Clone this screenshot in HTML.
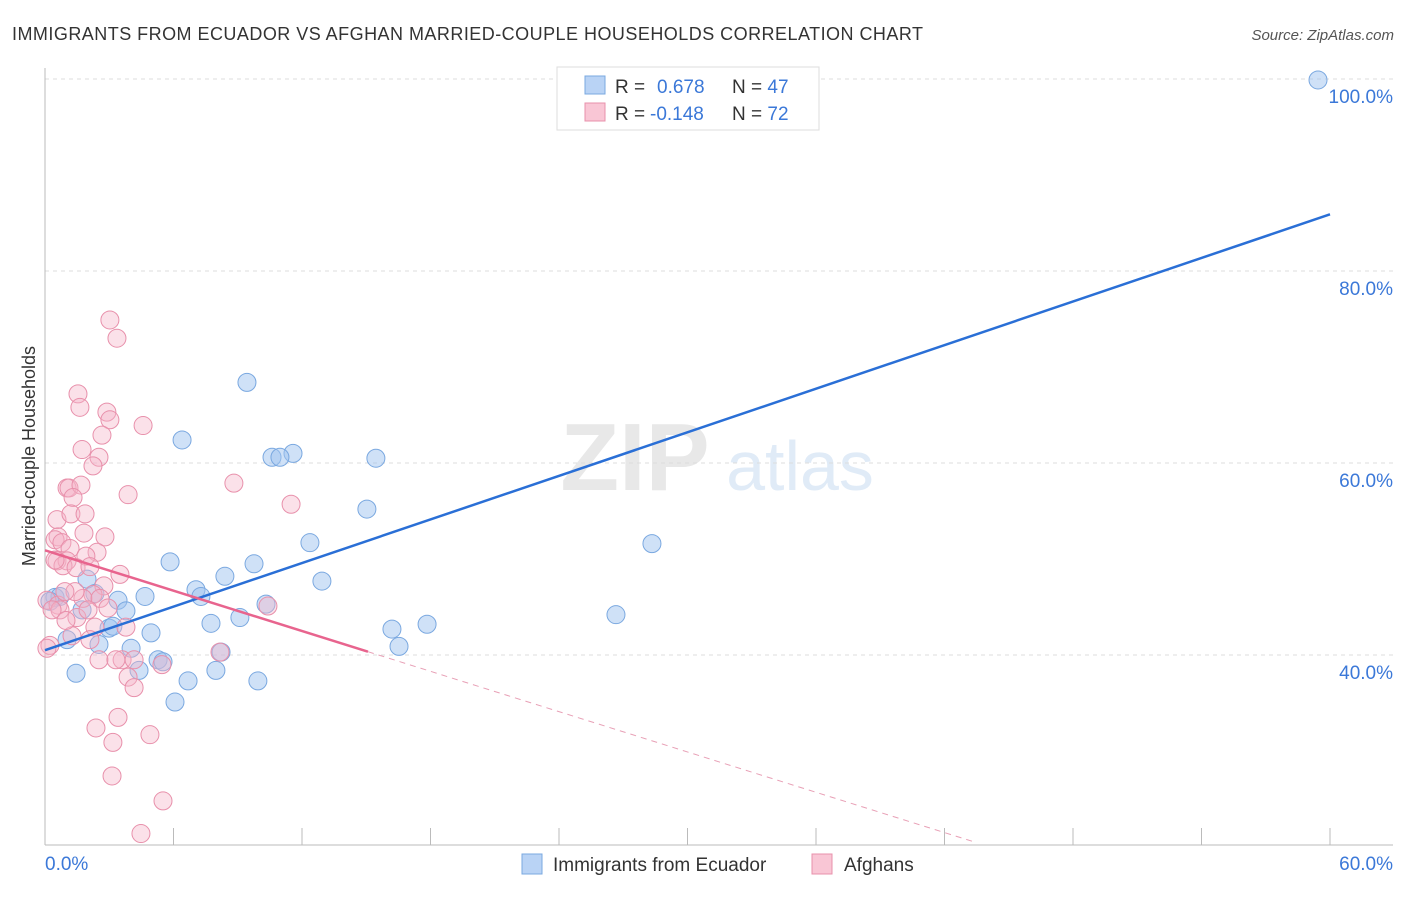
<!DOCTYPE html>
<html><head><meta charset="utf-8"><style>
body{margin:0;background:#fff;font-family:"Liberation Sans",sans-serif}
svg text{font-family:"Liberation Sans",sans-serif}
</style></head><body>
<svg id="c" width="1406" height="892">
<text x="12" y="40" font-size="18" fill="#333" textLength="911">IMMIGRANTS FROM ECUADOR VS AFGHAN MARRIED-COUPLE HOUSEHOLDS CORRELATION CHART</text>
<text x="1394" y="40" font-size="15" fill="#555" font-style="italic" text-anchor="end">Source: ZipAtlas.com</text>
<text x="0" y="0" transform="translate(35,456) rotate(-90)" font-size="18" fill="#333" text-anchor="middle">Married-couple Households</text>
<g><text x="635" y="490" font-size="96" fill="#e8e8e8" font-family="Liberation Serif" text-anchor="middle" font-weight="bold">ZIP</text><text x="800" y="490" font-size="70" fill="#e0ebf7" text-anchor="middle">atlas</text></g>
<g id="grid"></g><g id="axes"></g><g id="pts"></g><g id="lines"></g>
<g>
<rect x="557" y="67" width="262" height="63" fill="#fff" stroke="#ddd"/>
<rect x="585" y="76" width="20" height="18" fill="#b9d3f5" stroke="#7aa8e0"/>
<rect x="585" y="103" width="20" height="18" fill="#f9c6d5" stroke="#e890ab"/>
<text x="615" y="93" font-size="19" fill="#333">R = <tspan fill="#3b78d8" x="657">0.678</tspan><tspan x="732" fill="#333">N = </tspan><tspan fill="#3b78d8">47</tspan></text>
<text x="615" y="120" font-size="19" fill="#333">R = <tspan fill="#3b78d8" x="650">-0.148</tspan><tspan x="732" fill="#333">N = </tspan><tspan fill="#3b78d8">72</tspan></text>
</g>
<g>
<rect x="522" y="854" width="20" height="20" fill="#b9d3f5" stroke="#7aa8e0"/>
<text x="553" y="871" font-size="19" fill="#333">Immigrants from Ecuador</text>
<rect x="812" y="854" width="20" height="20" fill="#f9c6d5" stroke="#e890ab"/>
<text x="844" y="871" font-size="19" fill="#333">Afghans</text>
</g>
</svg>
<script>
const blueX=[59.44,9.43,6.40,11.58,10.60,10.97,15.45,15.03,12.37,28.34,5.84,9.76,12.93,8.40,1.96,7.05,7.28,4.67,3.41,10.32,0.47,0.70,0.23,26.66,3.78,1.73,2.33,9.10,7.75,16.20,17.84,2.99,3.17,4.95,1.03,2.52,4.02,16.53,5.28,5.51,8.22,4.39,7.98,6.68,9.94,1.45,6.07];
const blueY=[99.9,68.4,62.4,61.0,60.6,60.6,60.5,55.2,51.7,51.6,49.7,49.5,47.7,48.2,47.9,46.8,46.1,46.1,45.7,45.3,46.0,46.1,45.6,44.2,44.6,44.7,46.4,43.9,43.3,42.7,43.2,42.8,43.0,42.3,41.6,41.1,40.7,40.9,39.5,39.3,40.3,38.4,38.4,37.3,37.3,38.1,35.1];
const pinkX=[3.03,3.36,1.54,1.63,2.89,3.03,4.58,2.66,1.73,2.52,2.24,8.82,1.03,1.12,1.68,3.88,1.31,11.49,0.56,1.21,1.87,1.82,2.80,0.61,0.47,0.79,2.43,1.17,0.56,1.03,1.91,0.84,1.45,2.10,3.50,2.75,2.24,0.09,1.77,1.40,2.57,10.41,2.94,1.49,3.78,2.33,1.26,0.23,0.09,2.52,3.60,4.16,5.46,8.17,3.88,4.16,3.41,2.38,3.17,4.90,3.13,5.51,4.48,0.61,0.70,0.33,0.93,2.01,0.98,3.31,2.10,0.47];
const pinkY=[74.9,73.0,67.2,65.8,65.3,64.5,63.9,62.9,61.4,60.6,59.7,57.9,57.4,57.4,57.7,56.7,56.4,55.7,54.1,54.7,54.7,52.7,52.3,52.3,52.0,51.7,50.7,51.1,49.8,49.8,50.3,49.3,49.1,49.2,48.4,47.2,46.3,45.7,45.9,46.6,45.9,45.1,44.9,43.9,42.9,42.9,42.0,41.0,40.7,39.5,39.5,39.5,39.0,40.3,37.7,36.6,33.5,32.4,30.9,31.7,27.4,24.8,21.4,45.2,44.7,44.7,46.6,44.7,43.6,39.5,41.6,49.9];
const yTicks=[40,60,80,100];
const yTickLabels=["40.0%","60.0%","80.0%","100.0%"];
const blueFit=[40.5,85.9];
const pinkFit=[50.9,-0.70];
const NS='http://www.w3.org/2000/svg';
const X=v=>45+v*1285/60, Y=v=>1039-v*9.6;
function mk(p,t,a){const e=document.createElementNS(NS,t);for(const k in a)e.setAttribute(k,a[k]);document.getElementById(p).appendChild(e);return e;}
yTicks.forEach((t,i)=>{
 const g=mk('grid','line',{x1:45,x2:1393,y1:Y(t),y2:Y(t),stroke:'#ddd','stroke-dasharray':'4,4'});
 
 
 const l=mk('grid','text',{x:1393,y:Y(t)+24,'font-size':19,fill:'#3b78d8','text-anchor':'end'});l.textContent=yTickLabels[i];
 
 
});
mk('axes','line',{x1:45,x2:45,y1:68,y2:845,stroke:'#bbb'});
mk('axes','line',{x1:45,x2:1393,y1:845,y2:845,stroke:'#bbb'});
for(let i=0;i<=10;i++){const t=mk('axes','line',{x1:X(i*6),x2:X(i*6),y1:828,y2:845,stroke:'#bbb'});
 
 }
let a=mk('axes','text',{x:45,y:870,'font-size':19,fill:'#3b78d8'});a.textContent='0.0%';


a=mk('axes','text',{x:1393,y:870,'font-size':19,fill:'#3b78d8','text-anchor':'end'});a.textContent='60.0%';


blueX.forEach((x,i)=>{const c=mk('pts','circle',{cx:X(x),cy:Y(blueY[i]),r:9,fill:'rgba(160,196,240,0.5)',stroke:'#7aa8e0','stroke-width':1});
 
 });
pinkX.forEach((x,i)=>{const c=mk('pts','circle',{cx:X(x),cy:Y(pinkY[i]),r:9,fill:'rgba(246,180,200,0.4)',stroke:'#e890ab','stroke-width':1});
 
 });
const b=mk('lines','line',{x1:X(0),y1:Y(blueFit[0]),x2:X(60),y2:Y(blueFit[1]),stroke:'#2a6fd6','stroke-width':2.5});


const pe=15.08, pd=43.3;
const p=mk('lines','line',{x1:X(0),y1:Y(pinkFit[0]),x2:X(pe),y2:Y(pinkFit[0]+pinkFit[1]*pe),stroke:'#e8648e','stroke-width':2.5});


const pd2=mk('lines','line',{x1:X(pe),y1:Y(pinkFit[0]+pinkFit[1]*pe),x2:X(pd),y2:Y(pinkFit[0]+pinkFit[1]*pd),stroke:'#e8a0b6','stroke-width':1,'stroke-dasharray':'6,5'});


</script>
</body></html>
